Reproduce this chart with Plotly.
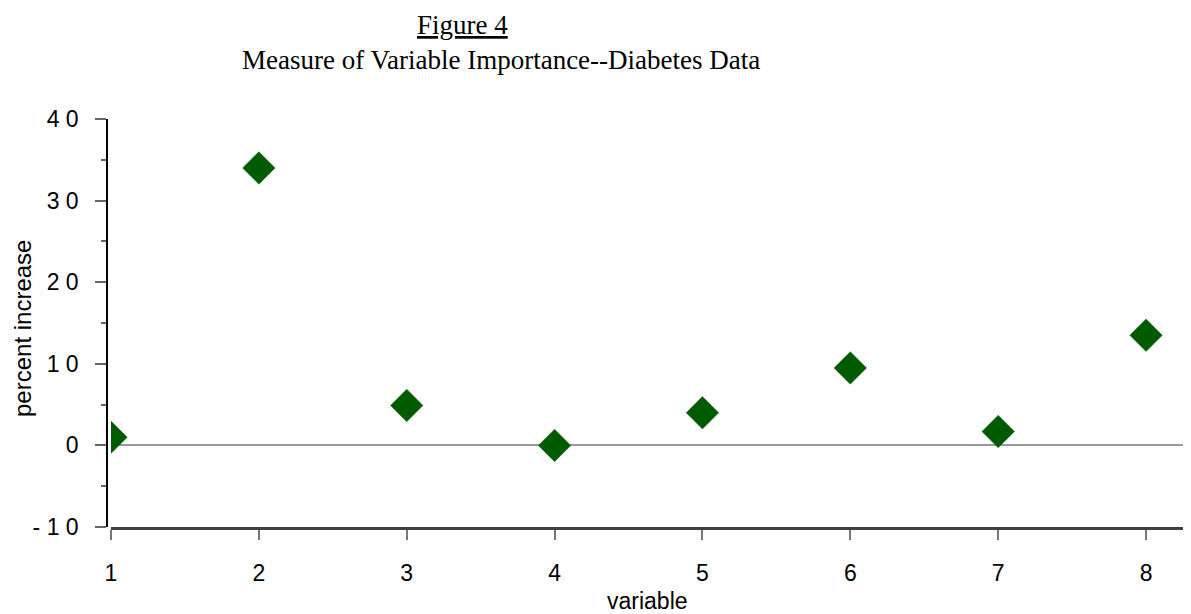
import plotly.graph_objects as go

variables = [1, 2, 3, 4, 5, 6, 7, 8]
percent_increase = [1.0, 34.0, 4.9, 0.0, 4.0, 9.5, 1.7, 13.5]

y_tickvals = [-10, 0, 10, 20, 30, 40]
y_ticktext = ["- 1 0", "0", "1 0", "2 0", "3 0", "4 0"]
x_tickvals = [1, 2, 3, 4, 5, 6, 7, 8]

title_line1 = "<u>Figure 4</u>"
title_line2 = "Measure of Variable Importance--Diabetes Data"
x_title = "variable"
y_title = "percent increase"

# page offset (browser body margin)
OFF = 8
W, H = 1191 - OFF, 614 - OFF
L = 107 - OFF
T = 119 - OFF
B = H - (527 - OFF)
R = 0
pw = W - L - R
ph = H - T - B

def px_x(p):
    # p in screenshot pixels
    return (p - OFF - L) / pw

def px_y(p):
    return (H - B - (p - OFF)) / ph

fig = go.Figure()
fig.add_trace(go.Scatter(
    x=variables, y=percent_increase, mode="markers",
    marker=dict(symbol="diamond", size=25, color="#005a00",
                line=dict(width=0.5, color="#1a6e1a")),
    cliponaxis=True, showlegend=False,
))

sans = "Liberation Sans, Arial, sans-serif"
serif = "Liberation Serif, Times New Roman, serif"

fig.update_layout(
    width=W, height=H,
    margin=dict(l=L, r=R, t=T, b=B, pad=0),
    paper_bgcolor="white", plot_bgcolor="white",
    xaxis=dict(
        domain=[4 / pw, 1], range=[1, 8.304],
        tickvals=x_tickvals, ticktext=[str(v) for v in x_tickvals],
        ticks="outside", ticklen=10, tickwidth=2, tickcolor="#777777",
        showline=True, linecolor="#404040", linewidth=2.5,
        showgrid=False, zeroline=False,
        tickfont=dict(family=sans, size=23, color="black"),
        ticklabelstandoff=14,
    ),
    yaxis=dict(
        range=[-10, 40], anchor="free", position=0,
        tickvals=y_tickvals, ticktext=y_ticktext,
        ticks="outside", ticklen=11, tickwidth=1.5, tickcolor="#666666",
        minor=dict(dtick=5, tick0=0, ticks="outside", ticklen=5,
                   tickwidth=1.5, tickcolor="#666666"),
        showline=True, linecolor="black", linewidth=1.5,
        showgrid=False,
        zeroline=True, zerolinecolor="#999999", zerolinewidth=1.5,
        tickfont=dict(family=sans, size=23, color="black"),
        ticklabelstandoff=12,
    ),
    annotations=[
        dict(text=title_line1, xref="paper", yref="paper",
             x=px_x(462), y=px_y(8), xanchor="center", yanchor="top",
             showarrow=False, font=dict(family=serif, size=27, color="black")),
        dict(text=title_line2, xref="paper", yref="paper",
             x=px_x(501), y=px_y(60), xanchor="center", yanchor="middle",
             showarrow=False, font=dict(family=serif, size=27, color="black")),
        dict(text=x_title, xref="paper", yref="paper",
             x=px_x(647), y=px_y(601), xanchor="center", yanchor="middle",
             showarrow=False, font=dict(family=sans, size=23, color="black")),
        dict(text=y_title, xref="paper", yref="paper",
             x=px_x(22), y=px_y(329), xanchor="center", yanchor="middle",
             textangle=-90,
             showarrow=False, font=dict(family=sans, size=24, color="black")),
    ],
)

fig.write_html("out.html")
